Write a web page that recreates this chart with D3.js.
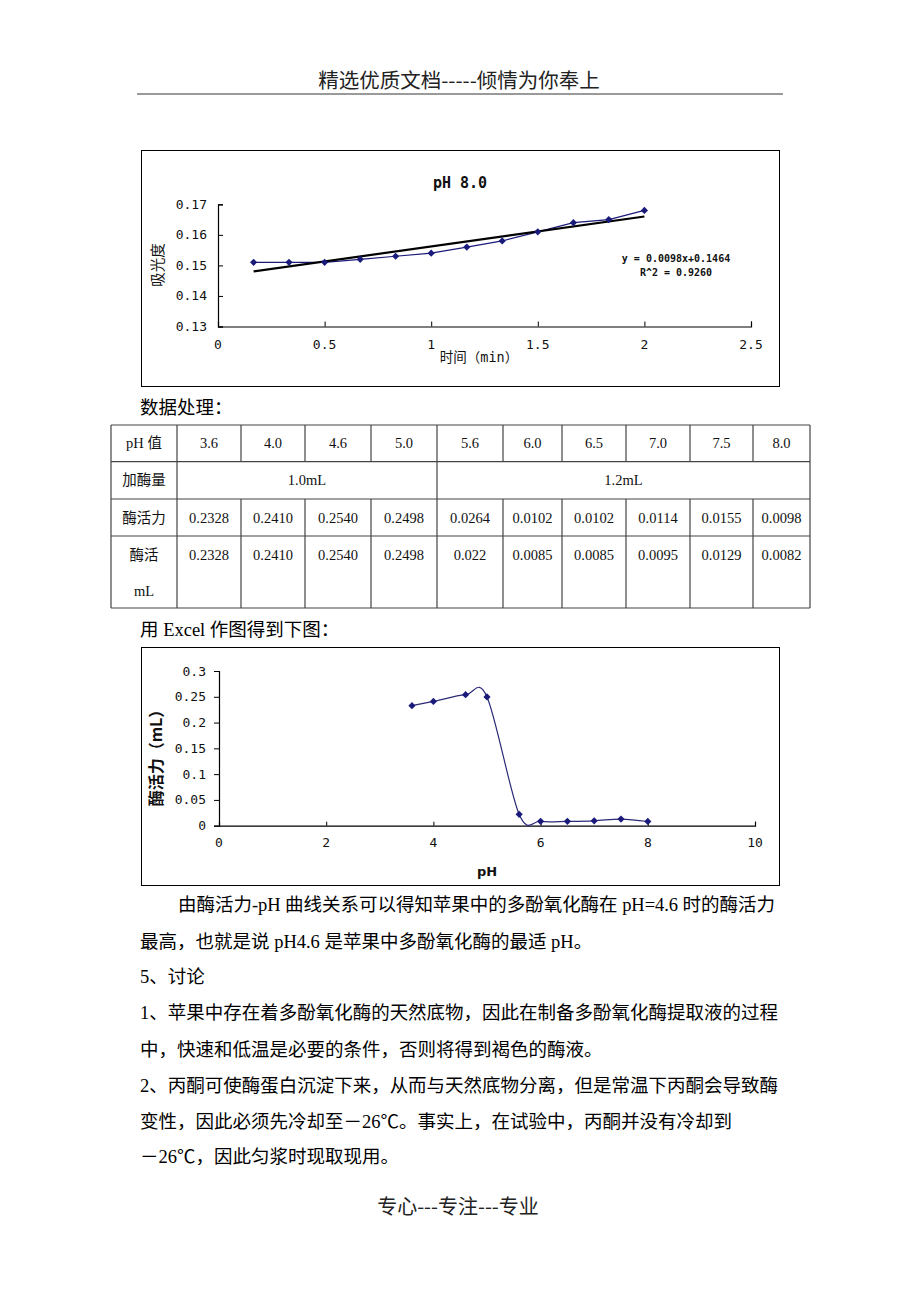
<!DOCTYPE html>
<html><head><meta charset="utf-8">
<script src="https://cdn.jsdelivr.net/npm/d3@7"></script>
<style>html,body{margin:0;padding:0;background:#fff;}svg{display:block;}</style>
</head><body>
<script>
// ---- Chart 1 data (pH 8.0 absorbance vs time) ----
const times = [0.167,0.333,0.5,0.667,0.833,1.0,1.167,1.333,1.5,1.667,1.833,2.0];
const absorbance = [0.151,0.151,0.151,0.152,0.153,0.154,0.156,0.158,0.161,0.164,0.165,0.168];
const trendSlope = 0.0098, trendIntercept = 0.1464;
const chart1XTicks = [0,0.5,1,1.5,2,2.5];
const chart1XTickLabels = ["0","0.5","1","1.5","2","2.5"];
const chart1YTicks = [0.13,0.14,0.15,0.16,0.17];

// ---- Table data ----
const phLabels = ["3.6","4.0","4.6","5.0","5.6","6.0","6.5","7.0","7.5","8.0"];
const enzymeGroups = [{label:"1.0mL", span:4},{label:"1.2mL", span:6}];
const activity = ["0.2328","0.2410","0.2540","0.2498","0.0264","0.0102","0.0102","0.0114","0.0155","0.0098"];
const activityPerML = ["0.2328","0.2410","0.2540","0.2498","0.022","0.0085","0.0085","0.0095","0.0129","0.0082"];

// ---- Chart 2 data (activity vs pH) ----
const phValues = [3.6,4.0,4.6,5.0,5.6,6.0,6.5,7.0,7.5,8.0];
const activityValues = [0.2328,0.2410,0.2540,0.2498,0.022,0.0085,0.0085,0.0095,0.0129,0.0082];
const chart2XTicks = [0,2,4,6,8,10];
const chart2YTicks = [0,0.05,0.1,0.15,0.2,0.25,0.3];
const chart2YTickLabels = ["0","0.05","0.1","0.15","0.2","0.25","0.3"];

const W = 920, H = 1302;
const svg = d3.select("body").append("svg").attr("width", W).attr("height", H);
svg.append("rect").attr("width", W).attr("height", H).attr("fill", "#fff");

const CJK = "'Noto Sans CJK SC'";
const SERIF = "'Liberation Serif', 'Noto Sans CJK SC'";
const MONO = "'DejaVu Sans Mono', 'Noto Sans CJK SC'";
const NAVY = "#1a1a7a";

// Header
svg.append("text").attr("x", 459).attr("y", 79).attr("text-anchor","middle").attr("dominant-baseline","central")
  .attr("font-family", CJK).attr("font-size", 20.5).attr("fill","#222").text("精选优质文档-----倾情为你奉上");
svg.append("line").attr("x1",137).attr("x2",783).attr("y1",94).attr("y2",94).attr("stroke","#9a9a9a").attr("stroke-width",2);

const diamond = d3.symbol(d3.symbolSquare, 26);

// ---------------- Chart 1 ----------------
svg.append("rect").attr("x",141.5).attr("y",150.5).attr("width",638).attr("height",236)
  .attr("fill","none").attr("stroke","#000").attr("stroke-width",1);
const x1 = d3.scaleLinear().domain([0,2.5]).range([218,751]);
const y1 = d3.scaleLinear().domain([0.13,0.17]).range([326.5,204.3]);
const g1 = svg.append("g");
const ax1 = g1.append("g").attr("transform",`translate(0,${y1(0.13)})`)
  .call(d3.axisBottom(x1).tickValues(chart1XTicks).tickSize(-5).tickFormat(""));
const ay1 = g1.append("g").attr("transform",`translate(${x1(0)},0)`)
  .call(d3.axisLeft(y1).tickValues(chart1YTicks).tickSize(-5).tickFormat(""));
[ax1, ay1].forEach(a => { a.selectAll("path").attr("stroke","#000").attr("stroke-width",1.2); a.selectAll("line").attr("stroke","#000"); });
g1.selectAll(".xl").data(chart1XTicks).join("text").attr("class","xl")
  .attr("x", d => x1(d)).attr("y", 344).attr("text-anchor","middle").attr("dominant-baseline","central")
  .attr("font-family", MONO).attr("font-size", 13).attr("fill","#111").text((d,i) => chart1XTickLabels[i]);
g1.selectAll(".yl").data(chart1YTicks).join("text").attr("class","yl")
  .attr("x", 207).attr("y", d => y1(d)).attr("text-anchor","end").attr("dominant-baseline","central")
  .attr("font-family", MONO).attr("font-size", 13).attr("fill","#111").text(d => d.toFixed(2));
// title
g1.append("text").attr("x",460).attr("y",183).attr("text-anchor","middle").attr("dominant-baseline","central")
  .attr("font-family", MONO).attr("font-weight","bold").attr("font-size",15).attr("fill","#111").text("pH 8.0");
// axis titles
g1.append("text").attr("transform","translate(156,265) rotate(-90)").attr("text-anchor","middle").attr("dominant-baseline","central")
  .attr("font-family", CJK).attr("font-size",14.5).attr("fill","#111").text("吸光度");
g1.append("text").attr("x",479).attr("y",357).attr("text-anchor","middle").attr("dominant-baseline","central")
  .attr("font-family", MONO).attr("font-size",13.5).attr("fill","#111").text("时间（min）");
// data line
const pts1 = times.map((t,i) => [t, absorbance[i]]);
g1.append("path").datum(pts1).attr("fill","none").attr("stroke",NAVY).attr("stroke-width",1.2)
  .attr("d", d3.line().x(d => x1(d[0])).y(d => y1(d[1])));
// trend line
const tx = d3.extent(times);
g1.append("path").datum(tx.map(t => [t, trendSlope*t + trendIntercept])).attr("fill","none")
  .attr("stroke","#000").attr("stroke-width",2.2)
  .attr("d", d3.line().x(d => x1(d[0])).y(d => y1(d[1])));
g1.selectAll(".m1").data(pts1).join("path").attr("class","m1")
  .attr("transform", d => `translate(${x1(d[0])},${y1(d[1])}) rotate(45)`).attr("d", diamond).attr("fill",NAVY);
// equation
g1.append("text").attr("x",676).attr("y",258).attr("text-anchor","middle").attr("dominant-baseline","central")
  .attr("font-family", MONO).attr("font-weight","bold").attr("font-size",10).attr("fill","#111")
  .text(`y = ${trendSlope.toFixed(4)}x+${trendIntercept.toFixed(4)}`);
g1.append("text").attr("x",676).attr("y",272).attr("text-anchor","middle").attr("dominant-baseline","central")
  .attr("font-family", MONO).attr("font-weight","bold").attr("font-size",10).attr("fill","#111")
  .text("R^2 = 0.9260");

// ---------------- Paragraph text ----------------
function para(x, y, txt, len) {
  const t = svg.append("text").attr("x", x).attr("y", y).attr("dominant-baseline","central")
    .attr("font-family", SERIF).attr("font-size", 18.5).attr("fill","#000").text(txt);
  if (len) t.attr("textLength", len).attr("lengthAdjust","spacing");
  return t;
}
para(140, 408, "数据处理：");

// ---------------- Table ----------------
const colX = [111,177,241,305,371,437,503,562,626,690,753,810];
const rowY = [425,461.7,499,536,608];
const tg = svg.append("g");
const TFONT = 14.5;
// horizontal lines
rowY.forEach(y => tg.append("line").attr("x1",colX[0]).attr("x2",colX[11]).attr("y1",y).attr("y2",y).attr("stroke","#444").attr("stroke-width",1.2));
// vertical lines
colX.forEach((x,i) => {
  if (i === 0 || i === 11 || i === 1 || i === 5) {
    tg.append("line").attr("x1",x).attr("x2",x).attr("y1",rowY[0]).attr("y2",rowY[4]).attr("stroke","#444").attr("stroke-width",1.2);
  } else {
    tg.append("line").attr("x1",x).attr("x2",x).attr("y1",rowY[0]).attr("y2",rowY[1]).attr("stroke","#444").attr("stroke-width",1.2);
    tg.append("line").attr("x1",x).attr("x2",x).attr("y1",rowY[2]).attr("y2",rowY[4]).attr("stroke","#444").attr("stroke-width",1.2);
  }
});
function cell(cx, cy, txt) {
  tg.append("text").attr("x",cx).attr("y",cy).attr("text-anchor","middle").attr("dominant-baseline","central")
    .attr("font-family", SERIF).attr("font-size", TFONT).attr("fill","#111").text(txt);
}
const mid = i => (colX[i] + colX[i+1]) / 2;
cell(mid(0), 443, "pH 值");
phLabels.forEach((p,i) => cell(mid(i+1), 443, p));
cell(mid(0), 480, "加酶量");
let ci = 1;
enzymeGroups.forEach(g => { cell((colX[ci] + colX[ci+g.span]) / 2, 480, g.label); ci += g.span; });
cell(mid(0), 518, "酶活力");
activity.forEach((v,i) => cell(mid(i+1), 518, v));
cell(mid(0), 555, "酶活");
cell(mid(0), 591, "mL");
activityPerML.forEach((v,i) => cell(mid(i+1), 555, v));

para(140, 630, "用 Excel 作图得到下图：");

// ---------------- Chart 2 ----------------
svg.append("rect").attr("x",141.5).attr("y",647.5).attr("width",638).attr("height",238)
  .attr("fill","none").attr("stroke","#000").attr("stroke-width",1);
const x2 = d3.scaleLinear().domain([0,10]).range([219,755]);
const y2 = d3.scaleLinear().domain([0,0.3]).range([825.7,671]);
const g2 = svg.append("g");
const ax2 = g2.append("g").attr("transform",`translate(0,${y2(0)})`)
  .call(d3.axisBottom(x2).tickValues(chart2XTicks).tickSize(-4).tickFormat(""));
const ay2 = g2.append("g").attr("transform",`translate(${x2(0)},0)`)
  .call(d3.axisLeft(y2).tickValues(chart2YTicks).tickSize(5).tickFormat(""));
[ax2, ay2].forEach(a => { a.selectAll("path").attr("stroke","#000").attr("stroke-width",1.2); a.selectAll("line").attr("stroke","#000"); });
g2.selectAll(".xl").data(chart2XTicks).join("text").attr("class","xl")
  .attr("x", d => x2(d)).attr("y", 842).attr("text-anchor","middle").attr("dominant-baseline","central")
  .attr("font-family", MONO).attr("font-size", 13).attr("fill","#111").text(d => d);
g2.selectAll(".yl").data(chart2YTicks).join("text").attr("class","yl")
  .attr("x", 206).attr("y", d => y2(d)).attr("text-anchor","end").attr("dominant-baseline","central")
  .attr("font-family", MONO).attr("font-size", 13).attr("fill","#111").text((d,i) => chart2YTickLabels[i]);
g2.append("text").attr("transform","translate(155,754) rotate(-90)").attr("text-anchor","middle").attr("dominant-baseline","central")
  .attr("font-family", CJK).attr("font-weight","bold").attr("font-size",16).attr("fill","#111").text("酶活力（mL）");
g2.append("text").attr("x",487).attr("y",871).attr("text-anchor","middle").attr("dominant-baseline","central")
  .attr("font-family", "'DejaVu Sans'").attr("font-weight","bold").attr("font-size",13).attr("fill","#111").text("pH");
const pts2 = phValues.map((p,i) => [p, activityValues[i]]);
g2.append("path").datum(pts2).attr("fill","none").attr("stroke","#2a2a78").attr("stroke-width",1.2)
  .attr("d", d3.line().x(d => x2(d[0])).y(d => y2(d[1])).curve(d3.curveCardinal.tension(0)));
g2.selectAll(".m2").data(pts2).join("path").attr("class","m2")
  .attr("transform", d => `translate(${x2(d[0])},${y2(d[1])}) rotate(45)`).attr("d", diamond).attr("fill",NAVY);

// ---------------- Body paragraphs ----------------
para(178, 905, "由酶活力-pH 曲线关系可以得知苹果中的多酚氧化酶在 pH=4.6 时的酶活力", 597);
para(140, 941.5, "最高，也就是说 pH4.6 是苹果中多酚氧化酶的最适 pH。");
para(140, 977, "5、讨论");
para(140, 1013, "1、苹果中存在着多酚氧化酶的天然底物，因此在制备多酚氧化酶提取液的过程", 638);
para(140, 1049.5, "中，快速和低温是必要的条件，否则将得到褐色的酶液。");
para(140, 1086, "2、丙酮可使酶蛋白沉淀下来，从而与天然底物分离，但是常温下丙酮会导致酶", 638);
para(140, 1122, "变性，因此必须先冷却至－26℃。事实上，在试验中，丙酮并没有冷却到");
para(140, 1157, "－26℃，因此匀浆时现取现用。");

// Footer
svg.append("text").attr("x",458).attr("y",1205).attr("text-anchor","middle").attr("dominant-baseline","central")
  .attr("font-family", CJK).attr("font-size", 20).attr("fill","#222").text("专心---专注---专业");
</script>
</body></html>
